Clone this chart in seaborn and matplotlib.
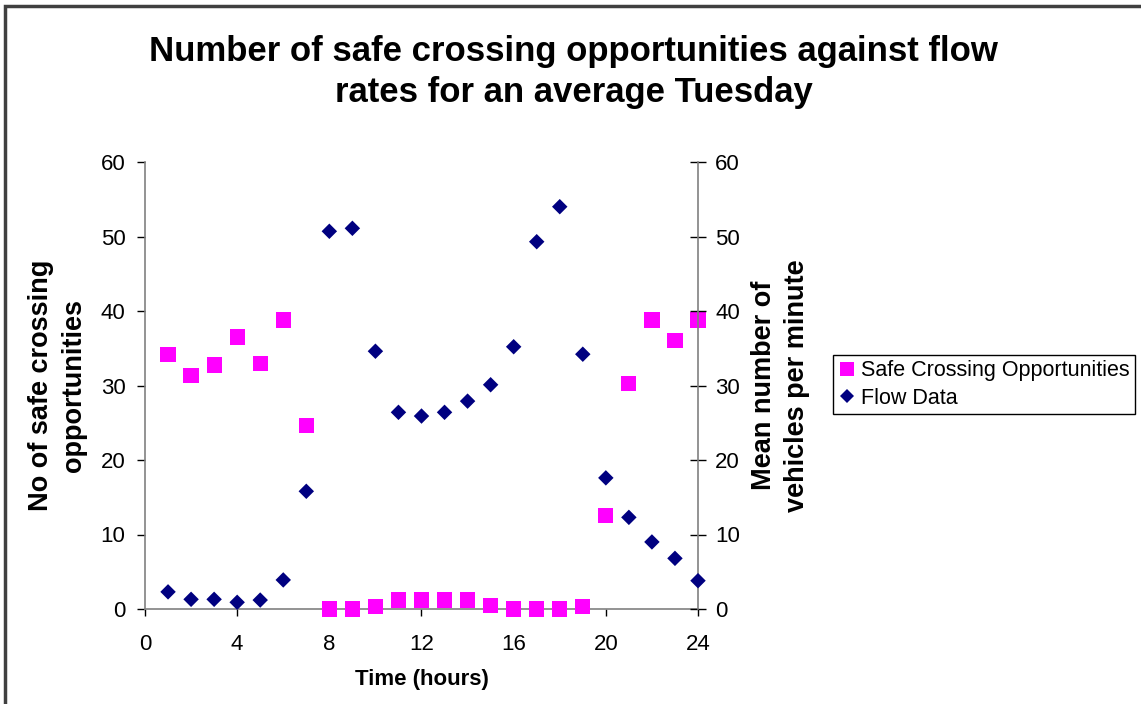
import matplotlib
matplotlib.use("Agg")
import matplotlib.pyplot as plt
from matplotlib.lines import Line2D
from matplotlib.patches import Rectangle
import seaborn as sns
import pandas as pd

# Hour of day
hours = list(range(1, 25))
# Number of safe crossing opportunities per hour
safe_crossings = [34.2, 31.3, 32.75, 36.5, 33.0, 38.8, 24.6, 0.0, 0.0, 0.3, 1.2, 1.2,
                  1.2, 1.2, 0.5, 0.0, 0.0, 0.0, 0.3, 12.5, 30.3, 38.8, 36.0, 38.8]
# Mean number of vehicles per minute
flow_rate = [2.3, 1.3, 1.3, 0.9, 1.2, 3.9, 15.8, 50.7, 51.1, 34.6, 26.4, 25.9,
             26.4, 27.9, 30.1, 35.2, 49.3, 54.0, 34.2, 17.6, 12.3, 9.0, 6.8, 3.8]
x_ticks = [0, 4, 8, 12, 16, 20, 24]
y_ticks = [0, 10, 20, 30, 40, 50, 60]

df = pd.DataFrame({"hour": hours, "safe": safe_crossings, "flow": flow_rate})

sns.set_theme(style="white")
plt.rcParams["font.family"] = ["Liberation Sans", "DejaVu Sans"]
plt.rcParams["text.color"] = "black"
plt.rcParams["axes.labelcolor"] = "black"
plt.rcParams["xtick.color"] = "black"
plt.rcParams["ytick.color"] = "black"

PINK = "#FF00FF"
NAVY = "#000080"
SPINE = "#808080"

fig = plt.figure(figsize=(11.41, 7.04), dpi=100)
ax = fig.add_axes([145 / 1141, 1 - 609 / 704, (698 - 145) / 1141, (609 - 162) / 704])
ax2 = ax.twinx()

sns.scatterplot(data=df, x="hour", y="safe", ax=ax, marker="s", s=120,
                color=PINK, edgecolor="none", clip_on=False, zorder=3)
sns.scatterplot(data=df, x="hour", y="flow", ax=ax2, marker="D", s=62,
                color=NAVY, edgecolor="none", clip_on=False, zorder=3)

for a in (ax, ax2):
    a.set_xlim(0, 24)
    a.set_ylim(0, 60)
    a.set_yticks(y_ticks)
    a.set_facecolor("none")
    a.grid(False)
    for side in ("top", "left", "right", "bottom"):
        a.spines[side].set_visible(False)

ax.set_xticks(x_ticks)
ax.spines["left"].set_visible(True)
ax.spines["bottom"].set_visible(True)
ax2.spines["right"].set_visible(True)
for sp in (ax.spines["left"], ax.spines["bottom"], ax2.spines["right"]):
    sp.set_color(SPINE)
    sp.set_linewidth(1.2)

ax.tick_params(axis="y", direction="out", length=6, width=1, color="black",
               labelsize=16, labelcolor="black", pad=8, left=True)
ax.tick_params(axis="x", direction="out", length=5, width=1, color="black",
               labelsize=16, labelcolor="black", pad=13, bottom=True)
ax2.tick_params(axis="y", direction="inout", length=11, width=1, color="black",
                labelsize=16, labelcolor="black", pad=7, right=True)

ax.set_xlabel("Time (hours)", fontsize=16, fontweight="bold")
ax.xaxis.label.set_va("center")
ax.xaxis.set_label_coords(0.5, -0.157)

ax.set_ylabel("No of safe crossing\nopportunities", fontsize=19.5, fontweight="bold",
              linespacing=1.33)
ax.yaxis.label.set_va("center")
ax.yaxis.set_label_coords(-0.158, 0.5)

ax2.set_ylabel("Mean number of\nvehicles per minute", fontsize=19.5, fontweight="bold",
               linespacing=1.38)
ax2.yaxis.set_label_position("right")
ax2.yaxis.label.set_rotation(90)
ax2.yaxis.label.set_va("center")
ax2.yaxis.set_label_coords(1.149, 0.5)

fig.text(0.503, 1 - 72 / 704, "Number of safe crossing opportunities against flow\nrates for an average Tuesday",
         ha="center", va="center", fontsize=25, fontweight="bold", linespacing=1.33)

handles = [
    Line2D([], [], linestyle="none", marker="s", markersize=10.5, color=PINK, markeredgewidth=0),
    Line2D([], [], linestyle="none", marker="D", markersize=7, color=NAVY, markeredgewidth=0),
]
leg = fig.legend(handles, ["Safe Crossing Opportunities", "Flow Data"],
                 loc="upper left", bbox_to_anchor=(833 / 1141, 1 - 355 / 704),
                 fontsize=15.5, frameon=True, fancybox=False, framealpha=1,
                 edgecolor="black", borderpad=0.25, handlelength=0.8,
                 handletextpad=0.25, labelspacing=0.3, borderaxespad=0)
leg.get_frame().set_linewidth(1)

# Outer frame around the chart area
fig.patches.append(Rectangle((5 / 1141, -0.1), 1.2, 1.1 - 6 / 704, transform=fig.transFigure,
                             fill=False, edgecolor="#404040", linewidth=2.5, zorder=10))

fig.savefig("out.png", dpi=100)
